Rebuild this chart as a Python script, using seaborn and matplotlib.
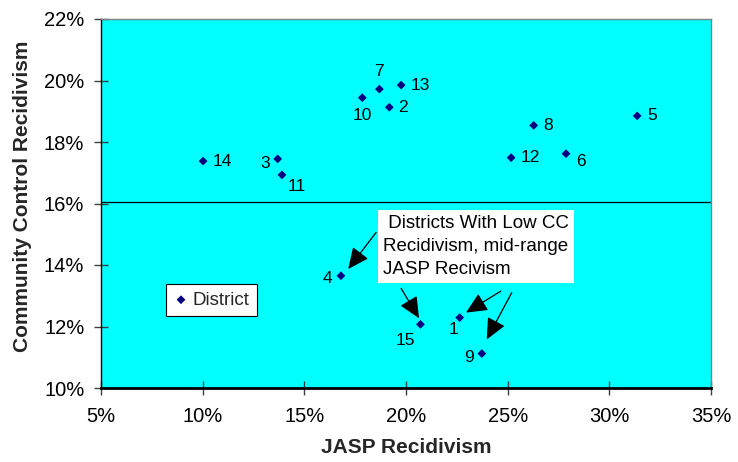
import matplotlib
matplotlib.use("Agg")
import matplotlib.pyplot as plt
import seaborn as sns
import pandas as pd
from matplotlib.ticker import FuncFormatter

# ---- data ----
districts = ["1", "2", "3", "4", "5", "6", "7", "8", "9", "10", "11", "12", "13", "14", "15"]
jasp_recidivism = [22.64, 19.18, 13.69, 16.80, 31.37, 27.87, 18.69, 26.28, 23.73, 17.85, 13.90, 25.17, 19.76, 10.02, 20.71]
cc_recidivism = [12.29, 19.13, 17.45, 13.65, 18.85, 17.62, 19.72, 18.54, 11.12, 19.44, 16.93, 17.49, 19.85, 17.38, 12.07]
cc_reference = 16.06
x_ticks = [5, 10, 15, 20, 25, 30, 35]
y_ticks = [10, 12, 14, 16, 18, 20, 22]
x_title = "JASP Recidivism"
y_title = "Community Control Recidivism"
series_name = "District"
note_text = " Districts With Low CC\nRecidivism, mid-range\nJASP Recivism"
note_anchor = (18.86, 15.62)
arrow_tails = [(18.53, 15.06), (19.76, 13.24), (24.66, 13.15), (25.20, 13.10)]
arrow_tips = [(17.16, 13.87), (20.64, 12.27), (22.95, 12.45), (23.97, 11.58)]

# label placement (pixel offsets, alignment)
label_pos = {
    "1": (-6, -12, "center"), "2": (9, 0, "left"), "3": (-8, -5, "right"),
    "4": (-9, -3, "right"), "5": (10, 0, "left"), "6": (15, -8, "center"),
    "7": (0, 18, "center"), "8": (10, 0, "left"), "9": (-13, -4, "center"),
    "10": (0, -18, "center"), "11": (15, -12, "center"), "12": (10, 0, "left"),
    "13": (10, 0, "left"), "14": (10, 0, "left"), "15": (-15, -16, "center"),
}

df = pd.DataFrame({"district": districts, "jasp": jasp_recidivism, "cc": cc_recidivism})

sns.set_theme(style="white")
plt.rcParams["font.family"] = ["Liberation Sans", "DejaVu Sans"]

fig = plt.figure(figsize=(7.38, 4.62), dpi=100)
fig.patch.set_facecolor("white")
ax = fig.add_axes([101 / 738, 1 - 388 / 462, 610 / 738, 369 / 462])
ax.set_facecolor("#00FFFF")

sns.scatterplot(data=df, x="jasp", y="cc", marker="D", color="#000080", s=20,
                edgecolor="none", label=series_name, ax=ax, zorder=3)

ax.axhline(cc_reference, color="black", lw=0.9, zorder=2)

for d, xv, yv in zip(districts, jasp_recidivism, cc_recidivism):
    dx, dy, ha = label_pos[d]
    ax.annotate(d, (xv, yv), xytext=(dx, dy), textcoords="offset pixels",
                ha=ha, va="center", fontsize=12.5, color="black", zorder=4)

ax.text(note_anchor[0], note_anchor[1], note_text, ha="left", va="top",
        fontsize=13.5, linespacing=1.45, color="black", zorder=5,
        bbox=dict(facecolor="white", edgecolor="none", pad=3.5))

for tail, tip in zip(arrow_tails, arrow_tips):
    ax.annotate("", xy=tip, xytext=tail,
                arrowprops=dict(arrowstyle="-|>,head_length=1.3,head_width=0.6",
                                mutation_scale=10, color="black", lw=0.9,
                                shrinkA=0, shrinkB=0), zorder=5)

ax.set_xlim(x_ticks[0], x_ticks[-1])
ax.set_ylim(y_ticks[0], y_ticks[-1])
ax.set_xticks(x_ticks)
ax.set_yticks(y_ticks)
pct = FuncFormatter(lambda v, p: f"{v:.0f}%")
ax.xaxis.set_major_formatter(pct)
ax.yaxis.set_major_formatter(pct)
ax.tick_params(axis="both", direction="inout", length=10, width=1, color="#404040",
               labelsize=14.5, labelcolor="black", bottom=True, left=True)
ax.tick_params(axis="x", pad=9)
ax.tick_params(axis="y", pad=7)

ax.set_xlabel(x_title, fontsize=15, fontweight="bold", labelpad=8)
ax.set_ylabel(y_title, fontsize=15, fontweight="bold", labelpad=8)
ax.yaxis.set_label_coords(-0.113, 0.52)

for side in ["top", "right"]:
    ax.spines[side].set_visible(True)
    ax.spines[side].set_color("#808080")
    ax.spines[side].set_linewidth(1)
ax.spines["left"].set_color("black")
ax.spines["left"].set_linewidth(1)
ax.spines["bottom"].set_color("black")
ax.spines["bottom"].set_linewidth(2)

leg = ax.legend(loc="upper left", bbox_to_anchor=(0.1066, 0.2818), borderaxespad=0,
                frameon=True, fancybox=False, fontsize=13.5, handletextpad=0.2,
                handlelength=0.8, borderpad=0.4, markerscale=1.0)
leg.get_frame().set_edgecolor("black")
leg.get_frame().set_linewidth(0.8)
leg.get_frame().set_facecolor("white")
leg.get_frame().set_alpha(1)

fig.savefig("out.png", dpi=100)
